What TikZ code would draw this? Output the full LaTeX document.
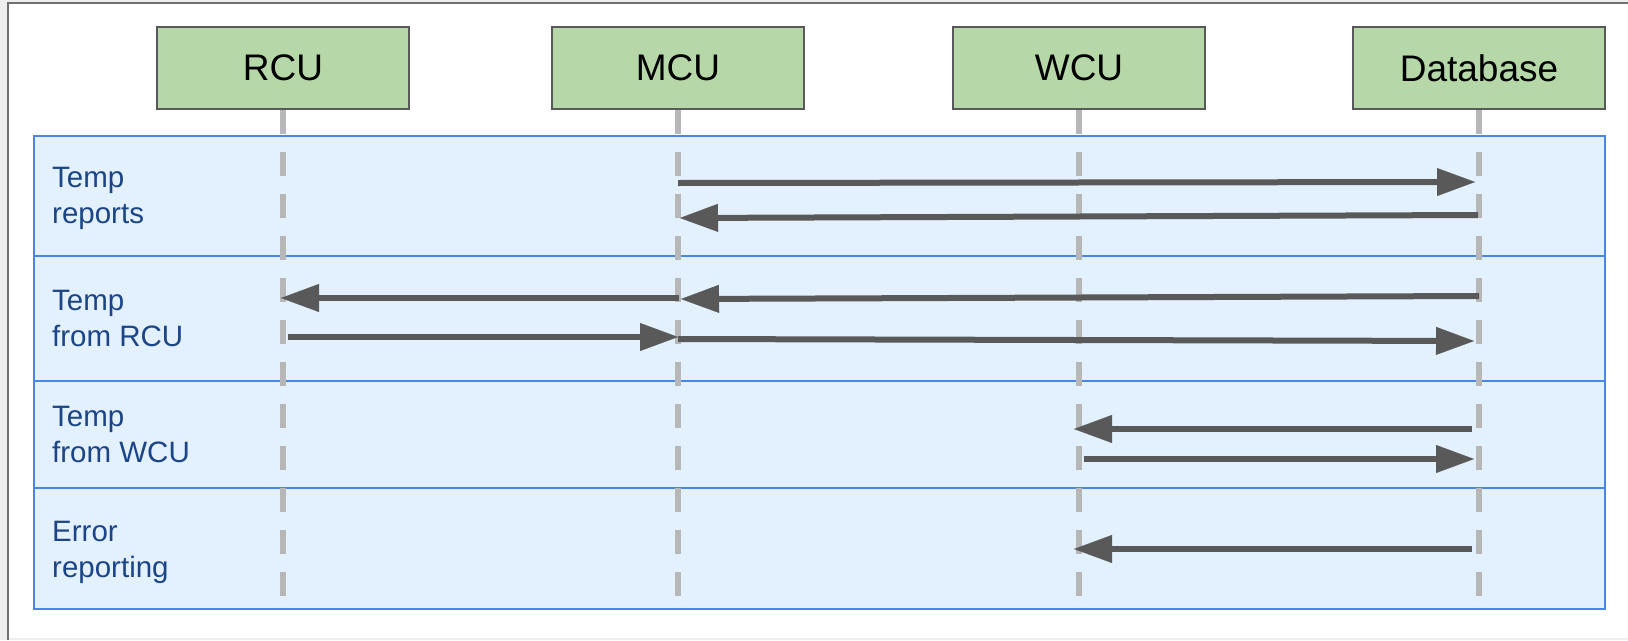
\documentclass[tikz,border=0pt]{standalone}
\usepackage{fontspec}
\setmainfont{Liberation Sans}
\usetikzlibrary{arrows.meta}
\definecolor{bgout}{HTML}{EEEEEE}
\definecolor{framecol}{HTML}{707070}
\definecolor{boxfill}{HTML}{B6D7A8}
\definecolor{boxline}{HTML}{595959}
\definecolor{lanefill}{HTML}{E3F0FD}
\definecolor{laneline}{HTML}{4A86E8}
\definecolor{lanetext}{HTML}{1C4587}
\definecolor{lifecol}{HTML}{B7B7B7}
\definecolor{msgcol}{HTML}{595959}
\tikzset{
 actor/.style={draw=boxline, line width=1.5pt, fill=boxfill, minimum width=252pt, minimum height=82pt, inner sep=0pt, font=\fontsize{37}{44}\selectfont},
 lane/.style={draw=laneline, line width=2pt, fill=lanefill},
 lanelabel/.style={anchor=north west, inner sep=0pt, align=left, text=lanetext, font=\fontsize{29.5}{36}\selectfont},
 lifeline/.style={draw=lifecol, line width=6pt, dash pattern=on 24pt off 18pt},
 msg/.style={draw=msgcol, line width=6pt, -{Triangle[length=38pt,width=28pt,line width=0.1pt]}}
}
\begin{document}
\begin{tikzpicture}[x=1pt,y=-1pt]
\useasboundingbox (0,0) rectangle (1628,640);
% outer frame
\fill[bgout] (0,0) rectangle (1628,640);
\fill[white] (8,3) rectangle (1640,638);
\draw[framecol, line width=1.5pt] (8,640) -- (8,3) -- (1640,3);
% lanes
\draw[lane] (34,136) rectangle (1605,256);
\draw[lane] (34,256) rectangle (1605,381);
\draw[lane] (34,381) rectangle (1605,488);
\draw[lane] (34,488) rectangle (1605,609);
\node[lanelabel] (l1) at (52,167) {Temp\\reports};
\node[lanelabel] (l2) at (52,290) {Temp\\from RCU};
\node[lanelabel] (l3) at (52,406) {Temp\\from WCU};
\node[lanelabel] (l4) at (52,521) {Error\\reporting};
% actors
\node[actor] (rcu) at (283,68) {RCU};
\node[actor] (mcu) at (678,68) {MCU};
\node[actor] (wcu) at (1079,68) {WCU};
\node[actor] (db) at (1479,68) {Database};
% lifelines
\draw[lifeline] (rcu.south) -- ++(0,486);
\draw[lifeline] (mcu.south) -- ++(0,486);
\draw[lifeline] (wcu.south) -- ++(0,486);
\draw[lifeline] (db.south) -- ++(0,486);
% message end points
\coordinate (a1s) at (678,183);  \coordinate (a1e) at (1475,182);
\coordinate (a2s) at (1478,215); \coordinate (a2e) at (680,218);
\coordinate (a3s) at (679,298);  \coordinate (a3e) at (281,298);
\coordinate (a4s) at (1479,296); \coordinate (a4e) at (681,299);
\coordinate (a5s) at (288,337);  \coordinate (a5e) at (678,337);
\coordinate (a6s) at (678,339);  \coordinate (a6e) at (1474,341);
\coordinate (a7s) at (1472,429); \coordinate (a7e) at (1074,429);
\coordinate (a8s) at (1084,459); \coordinate (a8e) at (1474,459);
\coordinate (a9s) at (1472,549); \coordinate (a9e) at (1074,549);
% messages
\draw[msg] (a1s) -- (a1e);
\draw[msg] (a2s) -- (a2e);
\draw[msg] (a3s) -- (a3e);
\draw[msg] (a4s) -- (a4e);
\draw[msg] (a5s) -- (a5e);
\draw[msg] (a6s) -- (a6e);
\draw[msg] (a7s) -- (a7e);
\draw[msg] (a8s) -- (a8e);
\draw[msg] (a9s) -- (a9e);
\end{tikzpicture}
\end{document}
